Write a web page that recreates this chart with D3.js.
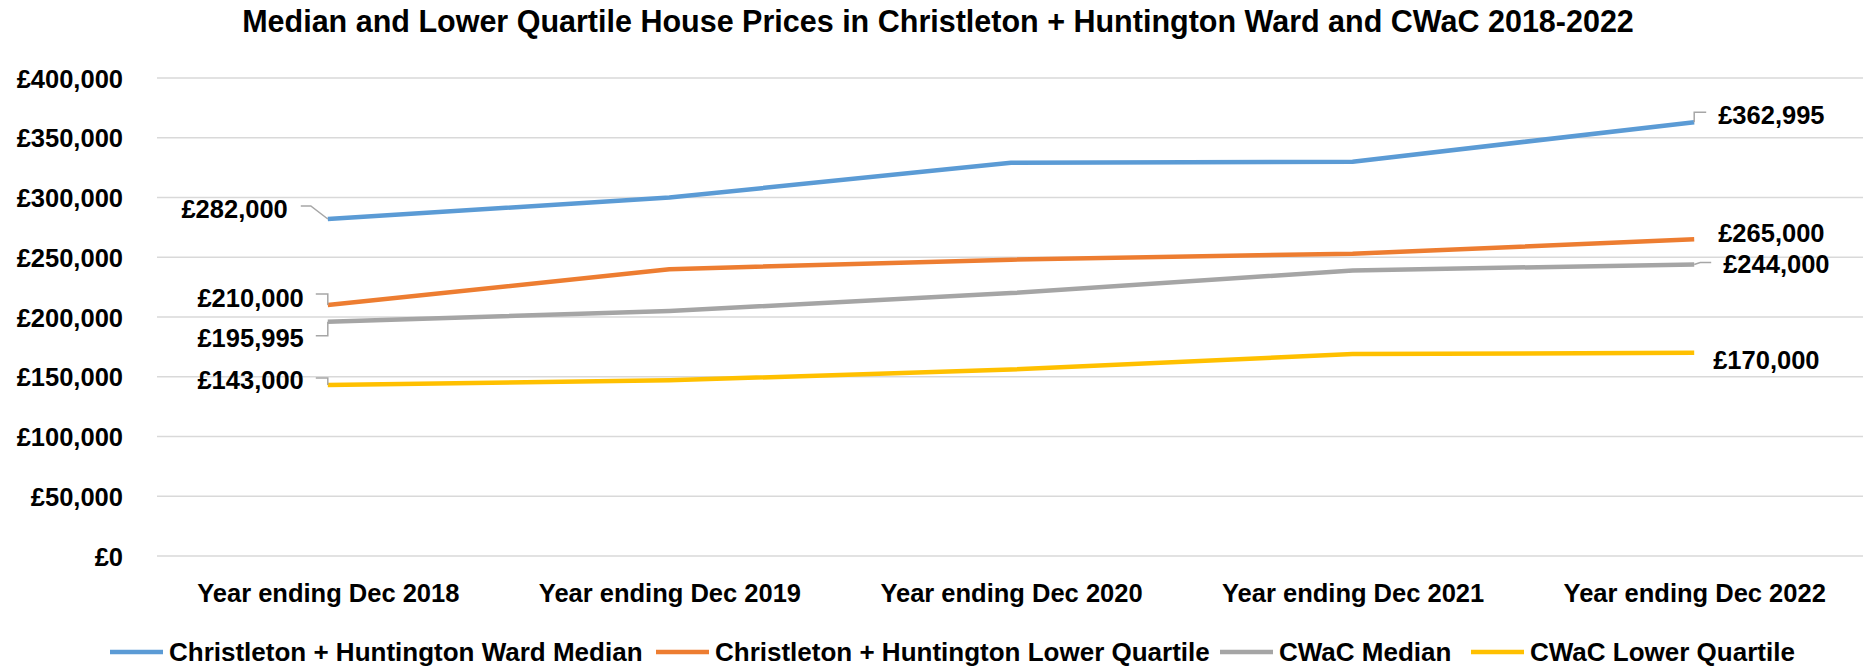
<!DOCTYPE html>
<html>
<head>
<meta charset="utf-8">
<script src="https://cdn.jsdelivr.net/npm/d3@7"></script>
<style>
  body { margin: 0; background: #fff; }
  svg text { font-family: "Liberation Sans", Arial, sans-serif; font-weight: bold; fill: #000; }
</style>
</head>
<body>
<div id="chart"></div>
<script>
const categories = ["Year ending Dec 2018", "Year ending Dec 2019", "Year ending Dec 2020", "Year ending Dec 2021", "Year ending Dec 2022"];
const wardMedian = [282000, 300000, 329000, 330000, 362995];
const wardLowerQuartile = [210000, 240000, 248000, 253000, 265000];
const cwacMedian = [195995, 205000, 220000, 239000, 244000];
const cwacLowerQuartile = [143000, 147000, 156000, 169000, 170000];
const seriesNames = ["Christleton + Huntington Ward Median", "Christleton + Huntington Lower Quartile", "CWaC Median", "CWaC Lower Quartile"];
const yTicks = [0, 50000, 100000, 150000, 200000, 250000, 300000, 350000, 400000];

const colors = ["#5B9BD5", "#ED7D31", "#A5A5A5", "#FFC000"];
const series = [wardMedian, wardLowerQuartile, cwacMedian, cwacLowerQuartile].map((values, i) => ({
    name: seriesNames[i], color: colors[i], values
}));

// label placement for first / last point of each series: text offset + leader path (relative to the point)
const labelLayout = [
    { first: { dx: -40, dy: -10, leader: [[0, 0], [-17, -13], [-27, -13]] }, last: { dx: 24, dy: -7, leader: [[0, 0], [0, -10], [12, -10]] } },
    { first: { dx: -24, dy: -7, leader: [[0, 0], [0, -11], [-12, -11]] }, last: { dx: 24, dy: -7, leader: null } },
    { first: { dx: -24, dy: 16, leader: [[0, 0], [0, 14], [-12, 14]] }, last: { dx: 29, dy: -1, leader: [[0, 0], [6, -2], [17, -2]] } },
    { first: { dx: -24, dy: -5, leader: [[0, 0], [0, -7], [-12, -7]] }, last: { dx: 19, dy: 7, leader: null } }
];

const width = 1863, height = 667;
const svg = d3.select("#chart").append("svg").attr("width", width).attr("height", height);

const x = d3.scalePoint().domain(categories).range([157, 1865]).padding(0.5);
const y = d3.scaleLinear().domain([0, 400000]).range([556, 78]);
const money = d => "£" + d3.format(",")(d);

svg.append("text")
    .attr("x", 938).attr("y", 32)
    .attr("text-anchor", "middle")
    .style("font-size", "30.5px")
    .text("Median and Lower Quartile House Prices in Christleton + Huntington Ward and CWaC 2018-2022");

// gridlines
svg.append("g")
    .selectAll("line")
    .data(yTicks)
    .enter().append("line")
    .attr("x1", 157).attr("x2", 1865)
    .attr("y1", d => y(d)).attr("y2", d => y(d))
    .attr("stroke", "#D9D9D9").attr("stroke-width", 1.3);

const yAxis = svg.append("g")
    .attr("transform", "translate(123,0)")
    .call(d3.axisLeft(y).tickValues(yTicks).tickSize(0).tickPadding(0).tickFormat(money));
yAxis.select(".domain").remove();
yAxis.selectAll("text").style("font-size", "25.5px").attr("dy", "0.36em");

const xAxis = svg.append("g")
    .attr("transform", "translate(0,602)")
    .call(d3.axisBottom(x).tickSize(0).tickPadding(0));
xAxis.select(".domain").remove();
xAxis.selectAll("text").style("font-size", "25.5px").attr("dy", 0).attr("y", 0);

const line = d3.line()
    .x((d, i) => x(categories[i]))
    .y(d => y(d));

svg.append("g")
    .selectAll("path")
    .data(series)
    .enter().append("path")
    .attr("d", d => line(d.values))
    .attr("fill", "none")
    .attr("stroke", d => d.color)
    .attr("stroke-width", 4.5)
    .attr("stroke-linejoin", "round");

// data labels
const labels = svg.append("g");
series.forEach((s, i) => {
    [["first", 0, "end"], ["last", s.values.length - 1, "start"]].forEach(([key, idx, anchor]) => {
        const lay = labelLayout[i][key];
        const px = x(categories[idx]);
        const py = y(s.values[idx]);
        if (lay.leader) {
            labels.append("path")
                .attr("d", d3.line()(lay.leader.map(p => [px + p[0], py + p[1]])))
                .attr("fill", "none")
                .attr("stroke", "#A6A6A6")
                .attr("stroke-width", 1.5);
        }
        labels.append("text")
            .attr("x", px + lay.dx)
            .attr("y", py + lay.dy)
            .attr("dy", "0.36em")
            .attr("text-anchor", anchor)
            .style("font-size", "25.5px")
            .text(money(s.values[idx]));
    });
});

// legend
const legendX = [110, 656, 1220, 1471];
const legend = svg.append("g");
series.forEach((s, i) => {
    const row = legend.append("g").attr("transform", `translate(${legendX[i]},652)`);
    row.append("line")
        .attr("x1", 0).attr("x2", 53)
        .attr("stroke", s.color).attr("stroke-width", 4.5);
    row.append("text")
        .attr("x", 59).attr("y", 9)
        .style("font-size", "26px")
        .text(s.name);
});
</script>
</body>
</html>
